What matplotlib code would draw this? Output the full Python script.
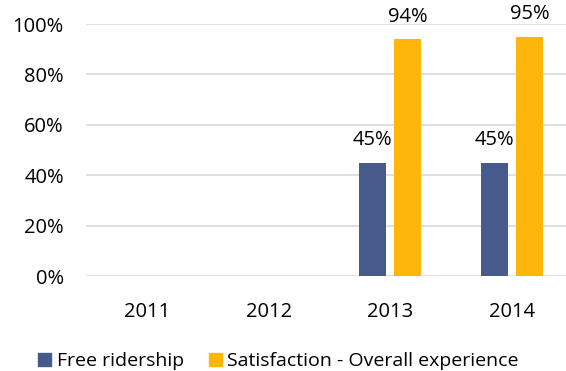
import matplotlib.pyplot as plt
import numpy as np
from matplotlib.ticker import PercentFormatter

plt.rcParams['font.family'] = ['Open Sans', 'DejaVu Sans']

years = ['2011', '2012', '2013', '2014']
free_ridership = [None, None, 0.45, 0.45]
satisfaction = [None, None, 0.94, 0.95]

blue = '#465a8b'
gold = '#ffb60a'

fig = plt.figure(figsize=(5.66, 3.71), dpi=100)
ax = fig.add_axes([0.152, 0.256, 0.8604, 0.679])

x = np.arange(len(years))
w = 0.222
off = 0.144

for i, (a, b) in enumerate(zip(free_ridership, satisfaction)):
    if a is not None:
        ax.bar(x[i] - off, a, w, color=blue)
        ax.text(x[i] - off, a + 0.09, f'{a:.0%}', ha='center', va='center', fontsize=14.5)
    if b is not None:
        ax.bar(x[i] + off, b, w, color=gold)
        ax.text(x[i] + off, b + 0.09, f'{b:.0%}', ha='center', va='center', fontsize=14.5)

ax.set_xlim(-0.5, 3.5)
ax.set_ylim(0, 1)
ax.set_yticks(np.arange(0, 1.01, 0.2))
ax.yaxis.set_major_formatter(PercentFormatter(1.0, decimals=0))
ax.set_xticks(x)
ax.set_xticklabels(years)
ax.tick_params(axis='both', length=0, labelsize=14.5)
ax.tick_params(axis='x', pad=19)
ax.tick_params(axis='y', pad=16)
ax.grid(axis='y', color='#d9d9d9', linewidth=1.2)
ax.set_axisbelow(True)
for s in ax.spines.values():
    s.set_visible(False)

handles = [plt.Rectangle((0, 0), 1, 1, color=blue), plt.Rectangle((0, 0), 1, 1, color=gold)]
fig.legend(handles, ['Free ridership', 'Satisfaction - Overall experience'],
           loc='center', bbox_to_anchor=(0.492, 0.027), ncol=2, frameon=False,
           fontsize=14, handlelength=0.65, handleheight=0.65, handletextpad=0.3,
           columnspacing=1.3, borderaxespad=0)

fig.savefig('out.png', dpi=100)
